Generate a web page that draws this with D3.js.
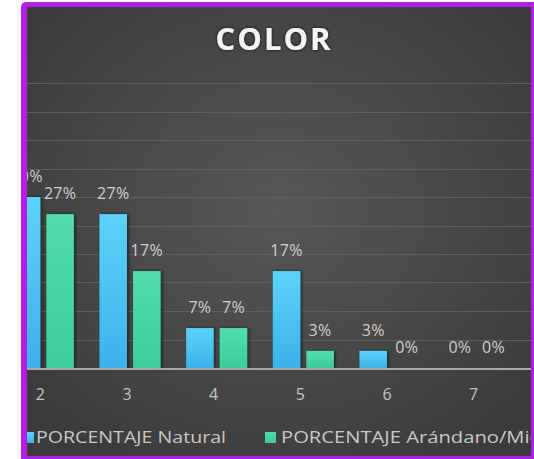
<!DOCTYPE html>
<html><head><meta charset="utf-8">
<script src="https://cdn.jsdelivr.net/npm/d3@7"></script>
<style>html,body{margin:0;padding:0;background:#fff;}svg{display:block;}</style>
</head><body>
<script>
const categories = ["2","3","4","5","6","7"];
const seriesNames = ["PORCENTAJE Natural","PORCENTAJE Arándano/Miel"];
const natural = [0.30,0.27,0.07,0.17,0.03,0.00];
const arandano = [0.27,0.17,0.07,0.03,0.00,0.00];
const gridTicks = [0,0.05,0.10,0.15,0.20,0.25,0.30,0.35,0.40,0.45,0.50];
const title = "COLOR";

const W=534,H=459;
const svg=d3.select("body").append("svg").attr("width",W).attr("height",H);
const defs=svg.append("defs");
const bg=defs.append("radialGradient").attr("id","bg").attr("cx","50%").attr("cy","45%").attr("r","65%");
bg.append("stop").attr("offset","0%").attr("stop-color","#575757");
bg.append("stop").attr("offset","100%").attr("stop-color","#3b3b3b");
const g1=defs.append("linearGradient").attr("id","gBlue").attr("x1",0).attr("y1",0).attr("x2",0).attr("y2",1);
g1.append("stop").attr("offset","0%").attr("stop-color","#5cd2f8");
g1.append("stop").attr("offset","100%").attr("stop-color","#3cb2ea");
const g2=defs.append("linearGradient").attr("id","gGreen").attr("x1",0).attr("y1",0).attr("x2",0).attr("y2",1);
g2.append("stop").attr("offset","0%").attr("stop-color","#52dcae");
g2.append("stop").attr("offset","100%").attr("stop-color","#3bcd9a");
const sh=defs.append("filter").attr("id","sh").attr("x","-30%").attr("y","-10%").attr("width","160%").attr("height","120%");
sh.append("feDropShadow").attr("dx",1.5).attr("dy",0).attr("stdDeviation",1.6).attr("flood-color","#0c2228").attr("flood-opacity",0.85);
const glow=defs.append("filter").attr("id","glow").attr("x","-20%").attr("y","-30%").attr("width","140%").attr("height","160%");
glow.append("feDropShadow").attr("dx",0).attr("dy",0).attr("stdDeviation",1.5).attr("flood-color","#000").attr("flood-opacity",0.9);
defs.append("clipPath").attr("id","clip").append("rect").attr("x",27).attr("y",7).attr("width",504).attr("height",449);

// frame (cropped at right and bottom)
svg.append("rect").attr("x",21).attr("y",2).attr("width",530).attr("height",480).attr("rx",5).attr("fill","#b01fe3");
svg.append("rect").attr("x",27).attr("y",7).attr("width",504).attr("height",449).attr("fill","url(#bg)");

const root=svg.append("g").attr("clip-path","url(#clip)");

const x=d3.scaleBand().domain(categories).range([0,520]).padding(0);
const xs=d3.scaleBand().domain(seriesNames).range([12.8, x.bandwidth()-12.8]).paddingInner(0.18);
const y=d3.scaleLinear().domain([0,0.5]).range([368,83]);

// gridlines
root.append("g").selectAll("line").data(gridTicks.slice(1)).join("line")
  .attr("x1",27).attr("x2",531).attr("y1",d=>Math.round(y(d))+0.5).attr("y2",d=>Math.round(y(d))+0.5)
  .attr("stroke","#5e5e5e").attr("stroke-width",1);

const fmt=d3.format(".0%");
const series=[{name:seriesNames[0],values:natural,fill:"url(#gBlue)"},{name:seriesNames[1],values:arandano,fill:"url(#gGreen)"}];

const groups=root.append("g").selectAll("g").data(categories).join("g")
  .attr("transform",d=>`translate(${x(d)},0)`);
groups.each(function(cat,i){
  const g=d3.select(this);
  series.forEach(s=>{
    const v=s.values[i];
    if(v>0){
      g.append("rect").attr("x",xs(s.name)).attr("width",xs.bandwidth())
        .attr("y",y(v)).attr("height",y(0)-y(v)).attr("fill",s.fill).attr("filter","url(#sh)");
    }
    g.append("text").attr("x",xs(s.name)+xs.bandwidth()/2).attr("y",y(v)-15)
      .attr("text-anchor","middle").attr("font-family","Open Sans").attr("font-size",16)
      .attr("letter-spacing",0.3).attr("fill","#cfcfcf").text(fmt(v));
  });
});

// baseline
root.append("line").attr("x1",27).attr("x2",531).attr("y1",y(0)+1).attr("y2",y(0)+1)
  .attr("stroke","#a9a9a9").attr("stroke-width",2);

// x axis
const xAxis=d3.axisBottom(x).tickSize(0).tickPadding(0);
const ax=root.append("g").attr("transform",`translate(0,${y(0)})`).call(xAxis);
ax.select(".domain").remove();
ax.selectAll("text").attr("font-family","Open Sans").attr("font-size",16).attr("fill","#c4c4c4")
  .attr("dy",0).attr("y",32).attr("dx",-3);

// title
svg.append("text").attr("x",274).attr("y",50).attr("text-anchor","middle")
  .attr("font-family","Open Sans").attr("font-weight","bold").attr("font-size",31)
  .attr("letter-spacing",2).attr("fill","#f4f4f4").attr("filter","url(#glow)").text(title);

// legend
const legX=[27,265];
const leg=root.append("g").selectAll("g").data(series).join("g")
  .attr("transform",(d,i)=>`translate(${legX[i]},0)`);
leg.append("rect").attr("x",(d,i)=>i===0?-4:0).attr("y",432).attr("width",11).attr("height",11).attr("fill",d=>d.fill);
leg.append("text").attr("x",(d,i)=>i===0?9:16).attr("y",443).attr("font-family","Open Sans").attr("font-size",16)
  .attr("fill","#c8c8c8").attr("textLength",(d,i)=>i===0?190:265).attr("lengthAdjust","spacingAndGlyphs").text(d=>d.name);
</script>
</body></html>
